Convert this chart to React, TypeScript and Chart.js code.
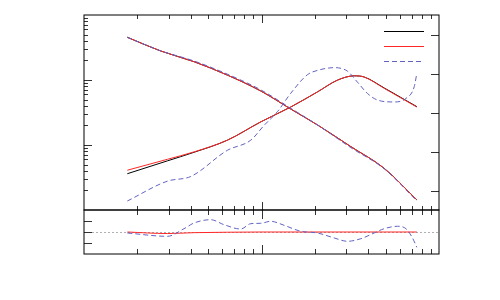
import React, { useEffect, useRef } from "react";
import { Chart, registerables } from "chart.js";
Chart.register(...registerables);

// ---- data (x is log scale, 1..100) ----
const xFall = [1.754, 2.71, 4.17, 6.42, 9.91, 14.6, 20.7, 31.9, 49.1, 75.0];
const fallBlack = [454, 279, 191, 119, 67.7, 35.8, 20.3, 9.42, 4.38, 1.43];
const fallRed = [454, 279, 191, 119, 67.7, 35.8, 20.3, 9.42, 4.38, 1.43];
const fallBlue = [454, 281, 196, 123, 70.5, 36.8, 20.3, 9.1, 4.3, 1.38];

const xRise = [1.754, 2.95, 4.17, 6.42, 9.91, 14.6, 20.7, 26.8, 33.3, 37.9, 49.1, 75.0];
const riseBlack = [1.43, 1.76, 1.98, 2.29, 2.76, 3.14, 3.53, 3.83, 3.94, 3.91, 3.63, 3.15];
const riseRed = [1.52, 1.8, 1.99, 2.29, 2.76, 3.14, 3.53, 3.83, 3.94, 3.91, 3.62, 3.14];

const xRiseBlue = [1.754, 2.95, 4.0, 6.42, 8.7, 10.34, 12.29, 14.6, 18.15, 20.7, 25.7, 30.5, 34.7, 39.5, 45.0, 55.9, 65.1, 72.5, 75.0];
const riseBlue = [0.73, 1.24, 1.36, 2.03, 2.29, 2.67, 3.02, 3.49, 3.97, 4.08, 4.15, 4.06, 3.78, 3.49, 3.32, 3.27, 3.36, 3.66, 4.0];

const xRatioRed = [1.754, 2.95, 4.17, 6.42, 9.91, 14.6, 20.7, 31.9, 49.1, 75.0];
const ratioRed = [1.0, 0.965, 0.985, 0.995, 1.0, 1.0, 1.0, 1.0, 1.0, 1.0];

const xRatioBlue = [1.754, 2.95, 3.66, 4.17, 5.18, 6.15, 7.64, 8.7, 9.91, 11.28, 13.41, 16.65, 20.7, 25.7, 30.5, 36.3, 43.1, 49.1, 58.3, 65.1, 70.9, 75.0];
const ratioBlue = [0.977, 0.902, 1.075, 1.205, 1.28, 1.166, 1.068, 1.189, 1.198, 1.243, 1.152, 1.016, 0.977, 0.864, 0.789, 0.848, 0.977, 1.075, 1.13, 1.075, 0.864, 0.652];

// axis tick values
const rightTicks = [1, 2, 3, 4, 5];
const ratioTicks = [0.75, 1, 1.25];

const BLACK = "#000000";
const RED = "#ff2626";
const BLUE = "#6262c2";
const DASH = [5, 3];

const pts = (xs: number[], ys: number[]) => xs.map((x, i) => ({ x, y: ys[i] }));

const logTicks = (lo: number, hi: number) => {
  const out: { v: number; major: boolean }[] = [];
  for (let d = lo; d < hi; d *= 10) {
    for (let m = 1; m <= 9; m++) {
      const v = m * d;
      if (v > lo && v < hi) out.push({ v, major: m === 1 });
    }
  }
  return out;
};

const framePlugin = {
  id: "frame",
  beforeDatasetsDraw(chart: any) {
    const { ctx } = chart;
    const sx = chart.scales.x;
    const sr = chart.scales.yr;
    const y1 = Math.round(sr.getPixelForValue(1)) + 0.5;
    ctx.save();
    ctx.strokeStyle = "#b0b0b0";
    ctx.lineWidth = 1;
    ctx.setLineDash([2, 2]);
    ctx.beginPath();
    ctx.moveTo(sx.left, y1);
    ctx.lineTo(sx.right, y1);
    ctx.stroke();
    ctx.restore();
  },
  afterDraw(chart: any) {
    const { ctx } = chart;
    const sx = chart.scales.x;
    const sy = chart.scales.y;
    const sr = chart.scales.yr;
    const s2 = chart.scales.y2;
    const L = sx.left, R = sx.right;
    const T = sy.top, M = sy.bottom, B = sr.bottom;
    ctx.save();
    ctx.lineWidth = 1;
    ctx.setLineDash([]);
    ctx.strokeStyle = "#333";
    const line = (x1: number, y1: number, x2: number, y2: number) => {
      ctx.beginPath();
      ctx.moveTo(x1, y1);
      ctx.lineTo(x2, y2);
      ctx.stroke();
    };
    for (const t of logTicks(1, 100)) {
      const px = Math.round(sx.getPixelForValue(t.v)) + 0.5;
      const a = t.major ? 8 : 4;
      const b = t.major ? 9 : 5;
      line(px, T, px, T + a);
      line(px, M, px, M - a);
      line(px, M, px, M + b);
      line(px, B, px, B - b);
    }
    for (const t of logTicks(1, 1000)) {
      const py = Math.round(sy.getPixelForValue(t.v)) + 0.5;
      line(L, py, L + (t.major ? 8 : 4), py);
    }
    for (const v of rightTicks) {
      const py = Math.round(s2.getPixelForValue(v)) + 0.5;
      line(R, py, R - 8, py);
    }
    for (const v of ratioTicks) {
      const py = Math.round(sr.getPixelForValue(v)) + 0.5;
      line(L, py, L + 8, py);
    }
    // frames
    ctx.strokeStyle = "#000";
    ctx.strokeRect(L, T, R - L, M - T);
    ctx.strokeRect(L, M, R - L, B - M);
    // legend
    const leg = [
      { c: BLACK, d: [] as number[] },
      { c: RED, d: [] as number[] },
      { c: BLUE, d: DASH },
    ];
    leg.forEach((e, i) => {
      const py = Math.round(T + 16 + i * 15) + 0.5;
      ctx.strokeStyle = e.c;
      ctx.setLineDash(e.d);
      line(R - 55, py, R - 15, py);
    });
    ctx.restore();
  },
};

export default function App() {
  const ref = useRef<HTMLCanvasElement>(null);
  useEffect(() => {
    if (!ref.current) return;
    const base = { pointRadius: 0, borderWidth: 1, fill: false, cubicInterpolationMode: "monotone" };
    const chart = new Chart(ref.current, {
      type: "line",
      data: {
        datasets: [
          { ...base, data: pts(xFall, fallBlack), borderColor: BLACK, yAxisID: "y", order: 3 },
          { ...base, data: pts(xRise, riseBlack), borderColor: BLACK, yAxisID: "y2", order: 3 },
          { ...base, data: pts(xFall, fallRed), borderColor: RED, yAxisID: "y", order: 2 },
          { ...base, data: pts(xRise, riseRed), borderColor: RED, yAxisID: "y2", order: 2 },
          { ...base, data: pts(xRatioRed, ratioRed), borderColor: RED, yAxisID: "yr", order: 2 },
          { ...base, data: pts(xFall, fallBlue), borderColor: BLUE, borderDash: DASH, yAxisID: "y", order: 1 },
          { ...base, data: pts(xRiseBlue, riseBlue), borderColor: BLUE, borderDash: DASH, yAxisID: "y2", order: 1 },
          { ...base, data: pts(xRatioBlue, ratioBlue), borderColor: BLUE, borderDash: DASH, yAxisID: "yr", order: 1 },
        ],
      },
      options: {
        animation: false,
        responsive: false,
        devicePixelRatio: 1,
        layout: { padding: { left: 84, right: 61, top: 15, bottom: 46 } },
        plugins: { legend: { display: false }, tooltip: { enabled: false } },
        events: [],
        scales: {
          x: {
            type: "logarithmic", min: 1, max: 100,
            ticks: { display: false }, grid: { display: false }, border: { display: false },
            afterFit: (s: any) => { s.height = 0; },
          },
          y: {
            type: "logarithmic", min: 1, max: 1000, position: "left", stack: "v", stackWeight: 195, weight: 1,
            ticks: { display: false }, grid: { display: false }, border: { display: false },
            afterFit: (s: any) => { s.width = 0; },
          },
          yr: {
            type: "linear", min: 0.5, max: 1.5, position: "left", stack: "v", stackWeight: 44, weight: 0,
            ticks: { display: false }, grid: { display: false }, border: { display: false },
            afterFit: (s: any) => { s.width = 0; },
          },
          y2: {
            type: "linear", min: 0.5, max: 5.5, position: "right", stack: "v", stackWeight: 195, weight: 0,
            ticks: { display: false }, grid: { display: false }, border: { display: false },
            afterFit: (s: any) => { s.width = 0; },
          },
          y2r: {
            type: "linear", min: 0, max: 1, position: "right", stack: "v", stackWeight: 44, weight: 1,
            ticks: { display: false }, grid: { display: false }, border: { display: false },
            afterFit: (s: any) => { s.width = 0; },
          },
        },
      } as any,
      plugins: [framePlugin],
    });
    return () => chart.destroy();
  }, []);
  return (
    <div style={{ position: "fixed", left: 0, top: 0, width: 500, height: 300, background: "#fff" }}>
      <canvas ref={ref} width={500} height={300} />
    </div>
  );
}
